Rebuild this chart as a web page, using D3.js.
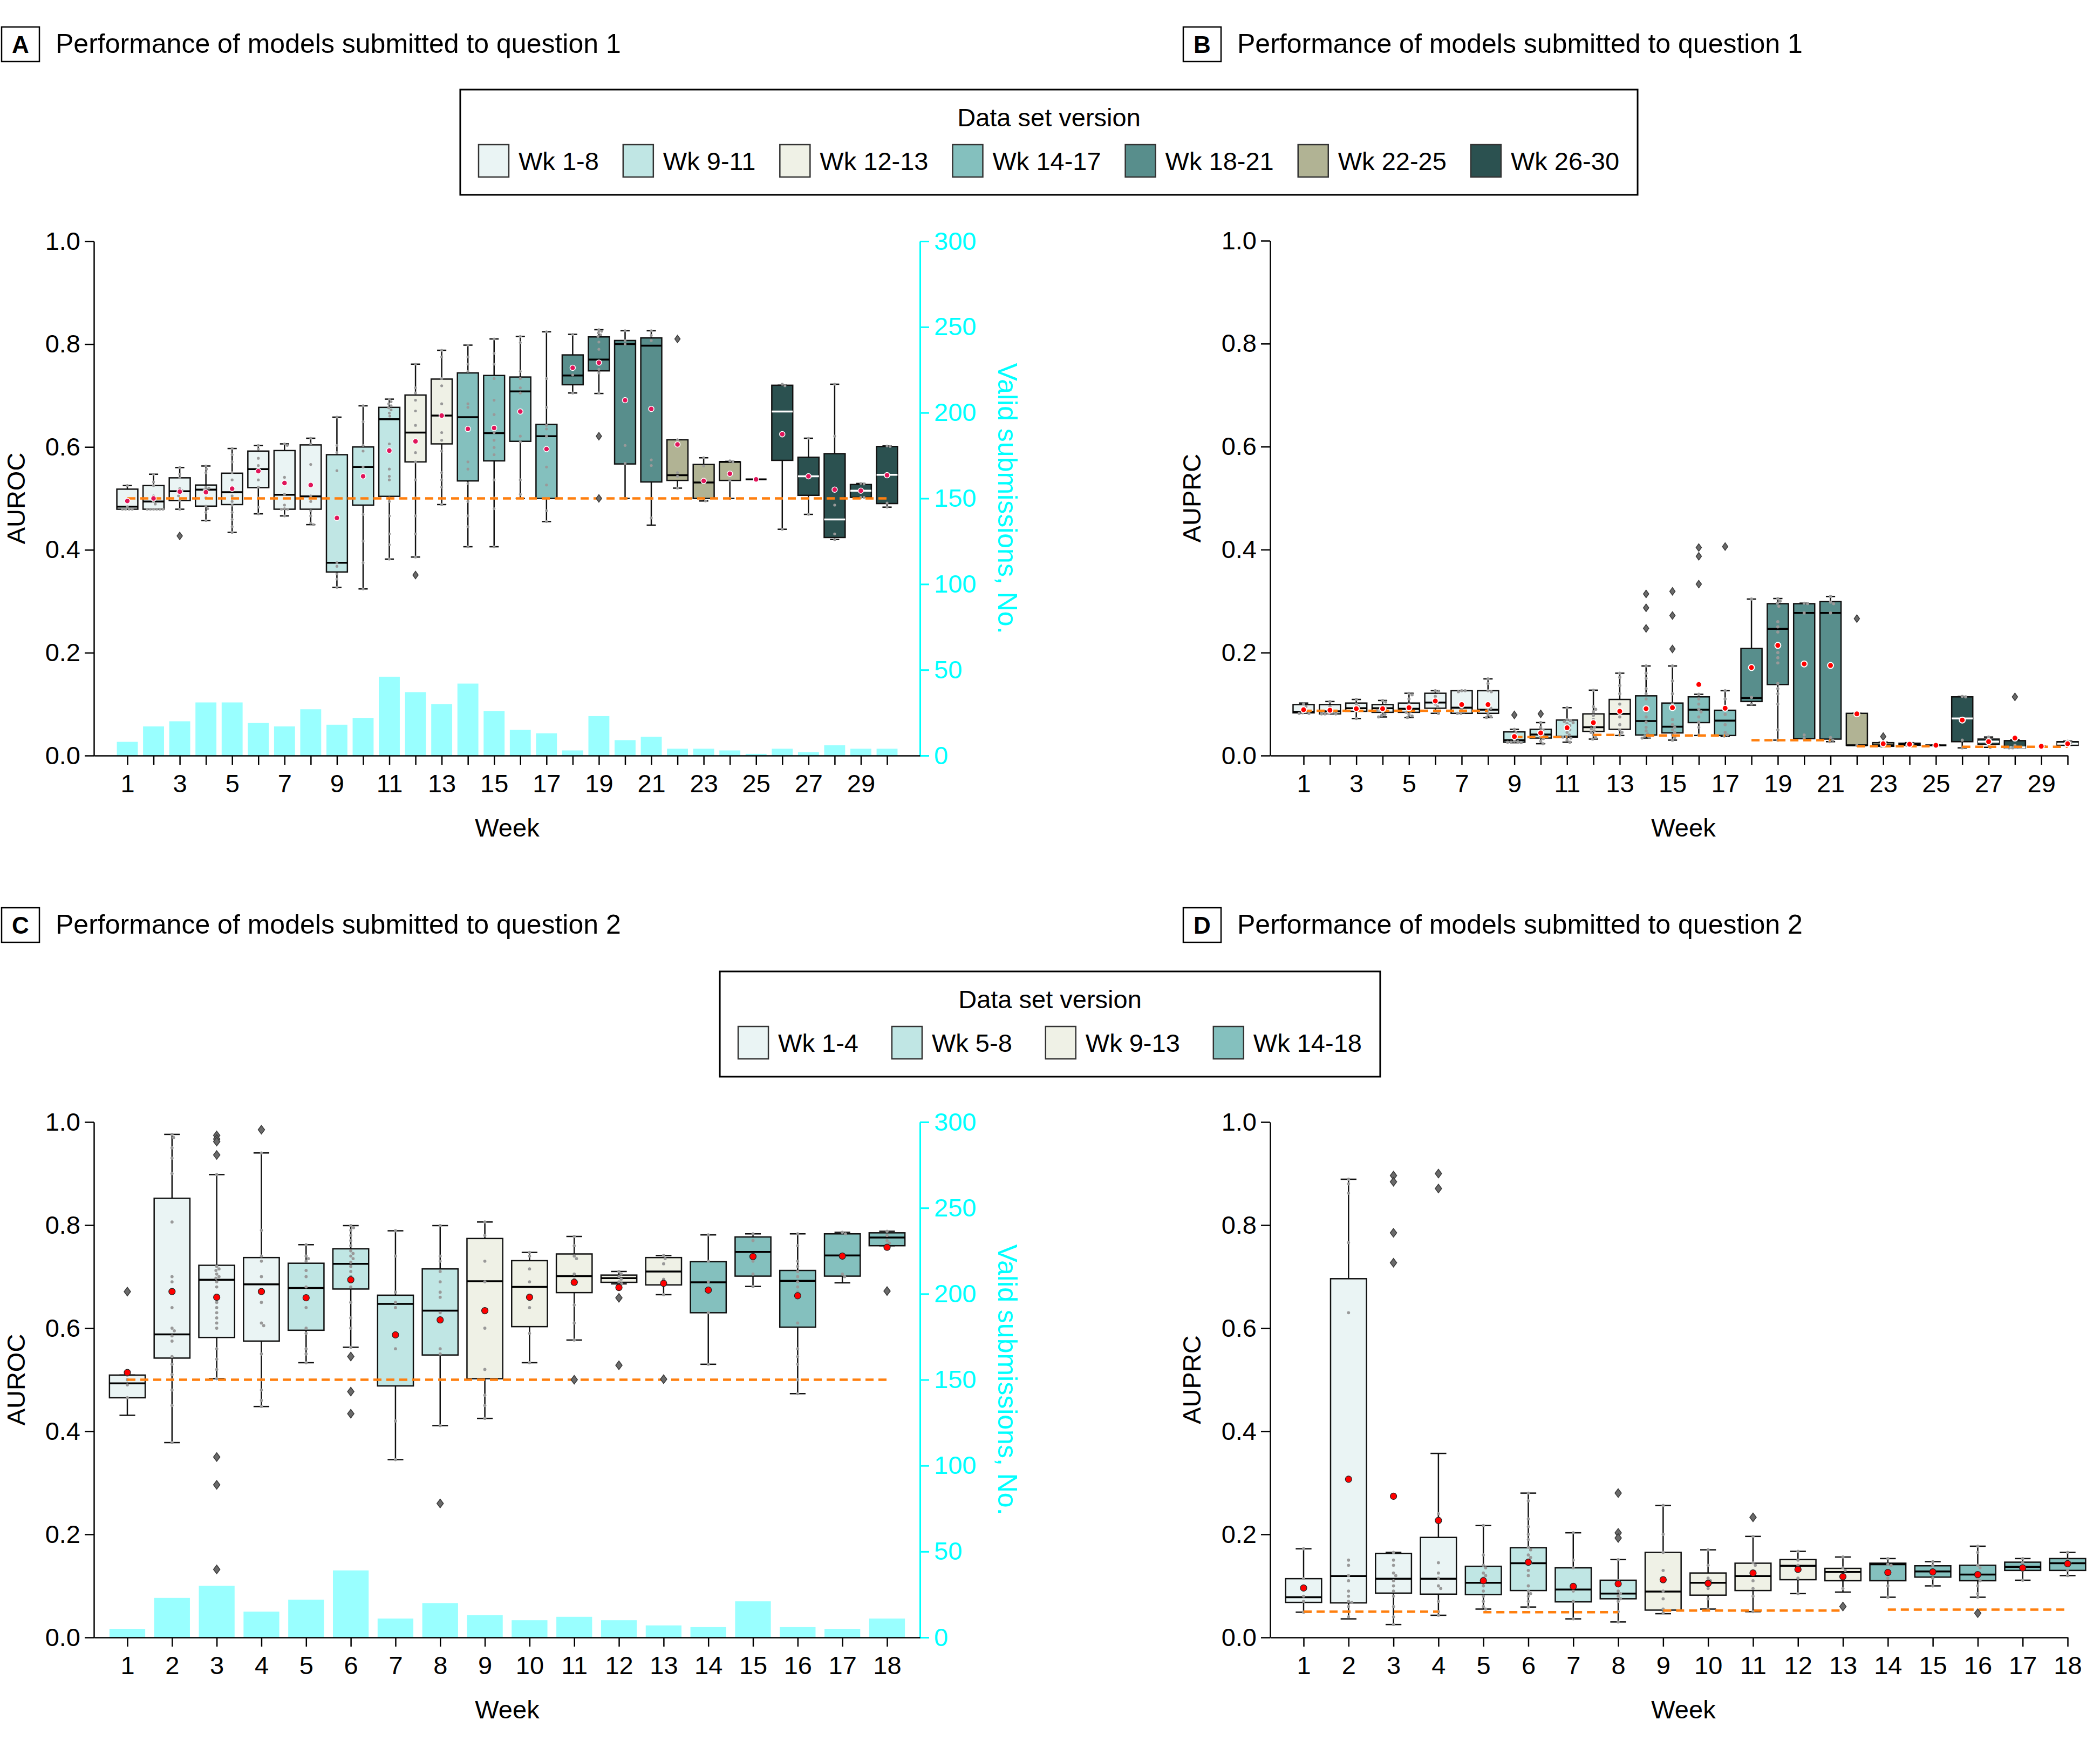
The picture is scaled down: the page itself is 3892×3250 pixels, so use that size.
<!DOCTYPE html>
<html><head><meta charset="utf-8">
<script src="https://cdn.jsdelivr.net/npm/d3@7"></script>
<style>body{margin:0;background:#fff}</style>
</head><body>
<script>
// ---------------- DATA ----------------
const weeksQ1 = [1,2,3,4,5,6,7,8,9,10,11,12,13,14,15,16,17,18,19,20,21,22,23,24,25,26,27,28,29,30];
const weeksQ2 = [1,2,3,4,5,6,7,8,9,10,11,12,13,14,15,16,17,18];
const versionLabelsQ1 = ['Wk 1-8','Wk 9-11','Wk 12-13','Wk 14-17','Wk 18-21','Wk 22-25','Wk 26-30'];
const versionStartQ1 = [1,9,12,14,18,22,26];
const versionEndQ1 = [8,11,13,17,21,25,30];
const versionLabelsQ2 = ['Wk 1-4','Wk 5-8','Wk 9-13','Wk 14-18'];
const versionStartQ2 = [1,5,9,14];
const versionEndQ2 = [4,8,13,18];
const versionColors = ['#eaf4f4','#c0e6e4','#eff1e6','#84c0be','#588e8c','#b1b394','#2b5150'];

// Panel A: AUROC, question 1
const aLo  = [0.479,0.479,0.479,0.457,0.434,0.470,0.466,0.449,0.327,0.324,0.382,0.386,0.488,0.406,0.406,0.500,0.455,0.705,0.704,0.500,0.448,0.520,0.495,0.500,0.537,0.440,0.469,0.420,0.502,0.483];
const aQ1  = [0.479,0.479,0.496,0.485,0.488,0.521,0.479,0.479,0.357,0.487,0.504,0.571,0.606,0.534,0.573,0.611,0.500,0.721,0.748,0.567,0.532,0.535,0.500,0.535,0.537,0.574,0.506,0.424,0.502,0.490];
const aMed = [0.484,0.494,0.514,0.517,0.512,0.557,0.507,0.504,0.375,0.561,0.654,0.628,0.661,0.658,0.627,0.708,0.621,0.739,0.770,0.800,0.797,0.545,0.531,0.571,0.537,0.669,0.543,0.459,0.515,0.546];
const aQ3  = [0.518,0.525,0.540,0.526,0.549,0.592,0.593,0.604,0.585,0.600,0.677,0.701,0.732,0.744,0.739,0.736,0.644,0.779,0.814,0.807,0.812,0.614,0.566,0.571,0.537,0.720,0.580,0.587,0.527,0.601];
const aHi  = [0.525,0.547,0.560,0.563,0.597,0.603,0.606,0.617,0.658,0.680,0.693,0.761,0.788,0.798,0.810,0.815,0.824,0.819,0.828,0.826,0.826,0.614,0.579,0.572,0.537,0.720,0.617,0.722,0.529,0.602];
const aMean= [0.495,0.500,0.513,0.512,0.519,0.553,0.530,0.526,0.462,0.543,0.593,0.611,0.661,0.635,0.637,0.669,0.596,0.754,0.764,0.691,0.674,0.605,0.534,0.548,0.537,0.625,0.543,0.517,0.515,0.545];
const aOut = [[],[],[0.427],[],[],[],[],[],[],[],[],[0.351],[],[],[],[],[],[],[0.621,0.500],[],[],[0.810],[],[],[],[],[],[],[],[]];
const aCounts = [8,17,20,31,31,19,17,27,18,22,46,37,30,42,26,15,13,3,23,9,11,4,4,3,1,4,2,6,4,4];
const aPts = [
 [0.525,0.497,0.484,0.479,0.479,0.479,0.479],
 [0.547,0.532,0.525,0.505,0.494,0.489,0.479,0.479,0.479,0.479,0.479,0.479],
 [0.560,0.547,0.540,0.519,0.514,0.505,0.496,0.479,0.515,0.510],
 [0.563,0.557,0.550,0.522,0.517,0.514,0.501,0.480,0.473,0.457,0.520,0.485],
 [0.597,0.585,0.571,0.550,0.536,0.522,0.505,0.494,0.487,0.473,0.459,0.445,0.434],
 [0.603,0.596,0.578,0.564,0.550,0.536,0.522,0.501,0.483,0.470],
 [0.606,0.603,0.541,0.508,0.487,0.480,0.466,0.479,0.479],
 [0.617,0.606,0.566,0.505,0.494,0.476,0.466,0.452,0.449],
 [0.658,0.603,0.589,0.554,0.375,0.368,0.353,0.343,0.327],
 [0.680,0.649,0.603,0.592,0.561,0.543,0.469,0.417,0.375,0.324],
 [0.693,0.688,0.684,0.680,0.676,0.672,0.666,0.660,0.606,0.592,0.557,0.543,0.536,0.501,0.494,0.466,0.431,0.410,0.382],
 [0.761,0.715,0.705,0.691,0.670,0.642,0.613,0.589,0.571,0.536,0.501,0.466,0.431,0.386],
 [0.788,0.775,0.733,0.719,0.684,0.663,0.628,0.613,0.592,0.550,0.536,0.522,0.488],
 [0.798,0.775,0.761,0.747,0.684,0.677,0.635,0.571,0.557,0.529,0.494,0.466,0.445,0.406],
 [0.810,0.782,0.761,0.733,0.691,0.663,0.628,0.613,0.599,0.585,0.536,0.501,0.480,0.406],
 [0.815,0.803,0.747,0.733,0.715,0.705,0.621,0.610,0.536,0.508],
 [0.824,0.733,0.677,0.642,0.635,0.621,0.561,0.526,0.476,0.455],
 [0.819,0.740,0.705],
 [0.828,0.825,0.822,0.818,0.815,0.804,0.790,0.765,0.751,0.744,0.705],
 [0.826,0.807,0.800,0.603,0.568,0.500],
 [0.826,0.817,0.807,0.575,0.564,0.500,0.462],
 [0.614,0.550,0.543,0.520],
 [0.579,0.563,0.531,0.500,0.495],
 [0.573,0.571,0.535,0.500],
 [0.537],
 [0.722,0.719,0.621,0.440],
 [0.617,0.543,0.469],
 [0.722,0.621,0.487,0.431,0.420],
 [0.529,0.528,0.502,0.502],
 [0.602,0.601,0.491,0.483]
];
const aBaseFrom = [1], aBaseTo = [30], aBaseVal = [0.5];

// Panel B: AUPRC, question 1
const bLo  = [0.082,0.081,0.072,0.075,0.074,0.082,0.082,0.074,0.025,0.023,0.026,0.032,0.039,0.034,0.030,0.039,0.037,0.098,0.030,0.033,0.027,0.020,0.018,0.020,0.020,0.015,0.016,0.015,0.018,0.020];
const bQ1  = [0.083,0.081,0.086,0.084,0.084,0.092,0.082,0.082,0.026,0.034,0.036,0.047,0.051,0.040,0.044,0.064,0.039,0.105,0.138,0.033,0.032,0.020,0.018,0.020,0.020,0.027,0.022,0.015,0.018,0.020];
const bMed = [0.085,0.086,0.092,0.092,0.091,0.103,0.093,0.089,0.030,0.041,0.037,0.055,0.081,0.067,0.056,0.089,0.068,0.112,0.246,0.277,0.277,0.020,0.020,0.022,0.020,0.072,0.027,0.016,0.018,0.023];
const bQ3  = [0.099,0.099,0.102,0.099,0.102,0.121,0.126,0.126,0.046,0.051,0.069,0.081,0.109,0.116,0.102,0.114,0.088,0.208,0.295,0.295,0.299,0.082,0.025,0.024,0.020,0.114,0.032,0.029,0.018,0.027];
const bHi  = [0.102,0.105,0.109,0.107,0.121,0.126,0.126,0.149,0.051,0.064,0.093,0.127,0.160,0.174,0.174,0.119,0.126,0.304,0.305,0.296,0.309,0.082,0.026,0.025,0.020,0.115,0.036,0.031,0.018,0.028];
const bMean= [0.089,0.088,0.091,0.091,0.093,0.106,0.099,0.099,0.037,0.044,0.054,0.064,0.086,0.091,0.093,0.138,0.092,0.171,0.214,0.178,0.175,0.081,0.023,0.022,0.020,0.069,0.027,0.034,0.018,0.023];
const bOut = [[],[],[],[],[],[],[],[],[0.079],[0.081],[],[],[],[0.314,0.287,0.247],[0.319,0.272,0.207],[0.404,0.387,0.333],[0.406],[],[],[],[],[0.266],[0.037],[],[],[],[],[0.114],[],[]];
const bPts = [
 [0.100,0.095,0.090,0.085,0.083,0.082,0.082],
 [0.105,0.095,0.088,0.084,0.082,0.081,0.081,0.081],
 [0.109,0.100,0.095,0.092,0.088,0.072],
 [0.107,0.104,0.095,0.092,0.090,0.088,0.085,0.080,0.078,0.075],
 [0.121,0.118,0.110,0.100,0.094,0.090,0.086,0.084,0.080,0.077,0.074],
 [0.126,0.124,0.115,0.108,0.100,0.095,0.085,0.082],
 [0.126,0.126,0.124,0.090,0.085,0.082,0.082],
 [0.149,0.140,0.126,0.124,0.096,0.092,0.088,0.080,0.076,0.074],
 [0.051,0.045,0.035,0.028,0.027,0.026,0.026,0.025],
 [0.064,0.055,0.050,0.045,0.040,0.036,0.033,0.028,0.023],
 [0.093,0.070,0.068,0.066,0.064,0.062,0.058,0.054,0.050,0.045,0.040,0.037,0.036,0.034,0.030,0.026],
 [0.127,0.095,0.090,0.085,0.078,0.070,0.064,0.060,0.055,0.052,0.048,0.045,0.040,0.035,0.032],
 [0.160,0.152,0.136,0.120,0.100,0.085,0.075,0.060,0.050,0.045,0.040],
 [0.174,0.160,0.150,0.130,0.120,0.110,0.095,0.085,0.075,0.065,0.055,0.048,0.042,0.038,0.036,0.034],
 [0.174,0.145,0.120,0.100,0.090,0.070,0.060,0.055,0.050,0.045,0.040,0.035,0.030],
 [0.119,0.110,0.100,0.090,0.085,0.075,0.065,0.055,0.040],
 [0.126,0.110,0.095,0.080,0.060,0.045,0.040,0.038],
 [0.304,0.113,0.100],
 [0.305,0.300,0.296,0.290,0.260,0.250,0.240,0.200,0.190,0.180,0.140,0.130,0.120,0.100,0.050,0.030],
 [0.296,0.295,0.277,0.040,0.033],
 [0.309,0.298,0.295,0.277,0.035,0.030,0.027],
 [0.082,0.020],
 [0.026,0.020,0.018],
 [0.024,0.022,0.020],
 [0.020],
 [0.115,0.114,0.030,0.015],
 [0.036,0.030,0.022,0.016],
 [0.031,0.020,0.016,0.015,0.015],
 [0.018,0.018],
 [0.028,0.025,0.020]
];
const bBaseFrom = [1,9,12,14,18,22,26], bBaseTo = [8,11,13,17,21,25,30];
const bBaseVal = [0.087,0.036,0.040,0.039,0.030,0.018,0.017];

// Panel C: AUROC, question 2
const cLo  = [0.431,0.378,0.502,0.448,0.533,0.563,0.345,0.411,0.425,0.533,0.577,0.686,0.665,0.530,0.681,0.473,0.688,0.760];
const cQ1  = [0.465,0.542,0.582,0.575,0.596,0.676,0.488,0.548,0.502,0.603,0.669,0.689,0.684,0.630,0.701,0.602,0.701,0.760];
const cMed = [0.493,0.588,0.694,0.685,0.678,0.725,0.647,0.634,0.691,0.680,0.701,0.697,0.710,0.689,0.748,0.692,0.741,0.776];
const cQ3  = [0.509,0.852,0.722,0.737,0.726,0.754,0.664,0.715,0.774,0.731,0.744,0.703,0.737,0.729,0.777,0.712,0.783,0.785];
const cHi  = [0.509,0.976,0.898,0.940,0.762,0.799,0.789,0.799,0.806,0.747,0.778,0.710,0.741,0.781,0.783,0.783,0.786,0.788];
const cMean= [0.514,0.671,0.660,0.671,0.659,0.694,0.587,0.616,0.634,0.660,0.689,0.679,0.687,0.674,0.739,0.663,0.740,0.757];
const cOut = [[0.671],[],[0.974,0.967,0.962,0.936,0.350,0.296,0.132],[0.985],[],[0.545,0.477,0.434],[],[0.260],[],[],[0.500],[0.659,0.528],[0.501],[],[],[],[],[0.672]];
const cCounts = [5,23,30,15,22,39,11,20,13,10,12,10,7,6,21,6,5,11];
const cPts = [
 [0.509,0.500,0.490,0.465],
 [0.976,0.970,0.950,0.930,0.900,0.806,0.700,0.690,0.640,0.600,0.595,0.585,0.575,0.545,0.530,0.510,0.500,0.480,0.450,0.378],
 [0.898,0.720,0.715,0.712,0.705,0.700,0.697,0.690,0.680,0.660,0.650,0.640,0.630,0.620,0.610,0.600,0.560,0.540,0.520,0.502],
 [0.940,0.790,0.740,0.730,0.700,0.650,0.610,0.605,0.550,0.500,0.480,0.460,0.448],
 [0.762,0.740,0.735,0.730,0.712,0.700,0.680,0.660,0.640,0.600,0.590,0.560,0.550,0.533],
 [0.799,0.795,0.790,0.780,0.770,0.760,0.750,0.745,0.740,0.735,0.728,0.720,0.710,0.700,0.690,0.680,0.650,0.620,0.600,0.563],
 [0.789,0.740,0.670,0.650,0.640,0.560,0.420,0.345],
 [0.799,0.740,0.730,0.710,0.690,0.670,0.660,0.630,0.620,0.560,0.550,0.500,0.411],
 [0.806,0.780,0.730,0.690,0.600,0.520,0.470,0.450,0.425],
 [0.747,0.740,0.715,0.690,0.640,0.590,0.533],
 [0.778,0.760,0.740,0.735,0.705,0.695,0.690,0.645,0.610,0.577],
 [0.710,0.705,0.700,0.695,0.690,0.686],
 [0.741,0.735,0.725,0.695,0.665],
 [0.781,0.730,0.690,0.630,0.530],
 [0.783,0.770,0.730,0.705,0.681],
 [0.783,0.760,0.730,0.720,0.710,0.700,0.690,0.680,0.670,0.610,0.560,0.545,0.530,0.500,0.473],
 [0.786,0.783,0.705,0.700],
 [0.788,0.780,0.770,0.765]
];
const cBaseFrom = [1], cBaseTo = [18], cBaseVal = [0.5];

// Panel D: AUPRC, question 2
const dLo  = [0.049,0.036,0.025,0.043,0.055,0.059,0.036,0.030,0.046,0.055,0.050,0.085,0.088,0.078,0.100,0.078,0.111,0.120];
const dQ1  = [0.068,0.067,0.086,0.084,0.083,0.091,0.069,0.075,0.053,0.082,0.091,0.112,0.110,0.110,0.117,0.110,0.130,0.130];
const dMed = [0.078,0.119,0.114,0.114,0.106,0.144,0.093,0.085,0.089,0.106,0.119,0.139,0.127,0.142,0.128,0.122,0.137,0.144];
const dQ3  = [0.114,0.696,0.163,0.194,0.138,0.174,0.135,0.111,0.165,0.125,0.144,0.151,0.134,0.144,0.139,0.140,0.146,0.153];
const dHi  = [0.172,0.889,0.165,0.357,0.217,0.280,0.203,0.151,0.256,0.170,0.196,0.167,0.156,0.153,0.147,0.177,0.153,0.165];
const dMean= [0.096,0.307,0.274,0.227,0.110,0.146,0.099,0.104,0.112,0.105,0.125,0.132,0.118,0.126,0.127,0.122,0.135,0.143];
const dOut = [[],[],[0.896,0.884,0.785,0.727],[0.900,0.871],[],[],[],[0.280,0.203,0.193],[],[],[0.233],[],[0.060],[],[],[0.047],[],[]];
const dPts = [
 [0.172,0.114,0.080,0.070,0.049],
 [0.889,0.880,0.862,0.766,0.630,0.150,0.140,0.120,0.110,0.090,0.080,0.070,0.068,0.060,0.050,0.040],
 [0.165,0.150,0.140,0.125,0.120,0.110,0.100,0.090,0.080,0.060,0.040,0.025],
 [0.240,0.145,0.125,0.115,0.100,0.095,0.070,0.050,0.043],
 [0.217,0.160,0.140,0.135,0.125,0.120,0.115,0.100,0.090,0.080,0.070,0.060,0.055],
 [0.280,0.265,0.230,0.215,0.200,0.190,0.175,0.170,0.160,0.155,0.150,0.145,0.130,0.120,0.100,0.090,0.085,0.080,0.070,0.059],
 [0.203,0.150,0.135,0.090,0.070,0.036],
 [0.151,0.110,0.100,0.090,0.085,0.080,0.075,0.070,0.050,0.030],
 [0.256,0.200,0.165,0.130,0.090,0.075,0.055,0.048],
 [0.170,0.140,0.115,0.110,0.095,0.075,0.055],
 [0.196,0.145,0.140,0.125,0.110,0.095,0.080,0.050],
 [0.167,0.150,0.140,0.115,0.085],
 [0.156,0.135,0.130,0.095],
 [0.153,0.142,0.140,0.115,0.100,0.078],
 [0.147,0.140,0.125,0.115,0.100],
 [0.177,0.165,0.140,0.135,0.125,0.115,0.110,0.100,0.085,0.078],
 [0.153,0.145,0.137,0.130,0.111],
 [0.165,0.150,0.145,0.130,0.120]
];
const dBaseFrom = [1,5,9,14], dBaseTo = [4,8,13,18], dBaseVal = [0.050,0.049,0.052,0.054];

const yTicks = [0,0.2,0.4,0.6,0.8,1.0];
const countTicks = [0,50,100,150,200,250,300];

// ---------------- DRAWING ----------------
const W = 3892, H = 3250;
const FONT = '"Liberation Sans", Arial, sans-serif';
const svg = d3.select('body').append('svg').attr('width', W).attr('height', H)
  .style('font-family', FONT);
svg.append('rect').attr('width', W).attr('height', H).attr('fill', '#fff');

const TICKFONT = '47px ' + FONT;

function groupOf(w, starts){ let g = 0; starts.forEach((s,i)=>{ if (w >= s) g = i; }); return g; }

function swarm(vals, y, d){
  const items = vals.map(v => ({v, py: y(v)})).sort((a,b)=>a.py-b.py);
  const placed = [];
  for (const p of items){
    const cands = [0];
    for (const q of placed){
      const dy = p.py - q.py;
      if (Math.abs(dy) < d){ const dx = Math.sqrt(d*d - dy*dy); cands.push(q.dx + dx, q.dx - dx); }
    }
    cands.sort((a,b)=>Math.abs(a)-Math.abs(b));
    let best = 0;
    for (const c of cands){
      if (placed.every(q => (q.dx-c)**2 + (q.py-p.py)**2 >= d*d - 0.5)){ best = c; break; }
    }
    p.dx = best; placed.push(p);
  }
  return placed;
}

function drawPanel(o){
  const g = svg.append('g');
  const n = o.weeks.length;
  const firstX = o.left + 62;
  const lastX = o.lastAtRight ? o.right : o.right - 61;
  const step = (lastX - firstX) / (n - 1);
  const x = d3.scaleLinear()
    .domain([1 - (firstX - o.left)/step, n + (o.right - lastX)/step])
    .range([o.left, o.right]);
  const y = d3.scaleLinear().domain([0, 1]).range([o.bottom, o.top]);
  const bw = 0.8 * step;

  // submission count bars (twin axis)
  if (o.counts){
    const yc = d3.scaleLinear().domain([0, 300]).range([o.bottom, o.top]);
    g.append('g').selectAll('rect').data(o.weeks).join('rect')
      .attr('x', w => x(w) - bw/2).attr('width', bw)
      .attr('y', (w,i) => yc(o.counts[i]))
      .attr('height', (w,i) => o.bottom - yc(o.counts[i]))
      .attr('fill', '#99ffff');
    const rg = g.append('g').attr('transform', `translate(${o.right},0)`)
      .call(d3.axisRight(yc).tickValues(countTicks).tickSize(17).tickSizeOuter(0).tickPadding(9));
    rg.select('.domain').attr('stroke', '#00ffff').attr('stroke-width', 3);
    rg.selectAll('.tick line').attr('stroke', '#00ffff').attr('stroke-width', 3);
    rg.selectAll('.tick text').attr('fill', '#00ffff').style('font', TICKFONT);
    g.append('text').text('Valid submissions, No.')
      .attr('transform', `translate(${o.rightLabelX},${(o.top+o.bottom)/2}) rotate(90)`)
      .attr('text-anchor', 'middle').attr('fill', '#00ffff').style('font-size', '50px');
  }

  // boxes
  const bg = g.append('g');
  o.weeks.forEach((w, i) => {
    const gi = groupOf(w, o.starts);
    const cx = x(w);
    const col = versionColors[gi];
    const lw = 2.5;
    bg.append('line').attr('x1', cx).attr('x2', cx).attr('y1', y(o.q3[i])).attr('y2', y(o.hi[i]))
      .attr('stroke', '#111').attr('stroke-width', lw);
    bg.append('line').attr('x1', cx).attr('x2', cx).attr('y1', y(o.q1[i])).attr('y2', y(o.lo[i]))
      .attr('stroke', '#111').attr('stroke-width', lw);
    const cw = bw * 0.22;
    [o.hi[i], o.lo[i]].forEach(v => {
      bg.append('line').attr('x1', cx - cw).attr('x2', cx + cw).attr('y1', y(v)).attr('y2', y(v))
        .attr('stroke', '#111').attr('stroke-width', lw);
    });
    bg.append('rect').attr('x', cx - bw/2).attr('width', bw)
      .attr('y', y(o.q3[i])).attr('height', Math.max(0, y(o.q1[i]) - y(o.q3[i])))
      .attr('fill', col).attr('stroke', '#111').attr('stroke-width', lw);
    bg.append('line').attr('x1', cx - bw/2).attr('x2', cx + bw/2)
      .attr('y1', y(o.med[i])).attr('y2', y(o.med[i]))
      .attr('stroke', gi === 6 ? '#ffffff' : '#000').attr('stroke-width', 3.5);
  });

  // swarm points
  const pg = g.append('g');
  o.weeks.forEach((w, i) => {
    const pts = swarm(o.pts[i], y, o.ptR*2 + 0.6);
    pts.forEach(p => {
      pg.append('circle').attr('cx', x(w) + p.dx).attr('cy', p.py).attr('r', o.ptR)
        .attr('fill', '#999999');
    });
  });

  // baseline (dashed)
  o.baseVal.forEach((v, k) => {
    g.append('line').attr('x1', x(o.baseFrom[k])).attr('x2', x(o.baseTo[k]))
      .attr('y1', y(v)).attr('y2', y(v))
      .attr('stroke', '#ff7f0e').attr('stroke-width', 4.5).attr('stroke-dasharray', '15,9');
  });

  // outliers (diamonds)
  const og = g.append('g');
  o.weeks.forEach((w, i) => {
    o.out[i].forEach(v => {
      const cx = x(w), cy = y(v), hw = o.dw, hh = o.dh;
      og.append('path').attr('d', `M${cx},${cy-hh}L${cx+hw},${cy}L${cx},${cy+hh}L${cx-hw},${cy}Z`)
        .attr('fill', '#6a6a6a').attr('stroke', '#3a3a3a').attr('stroke-width', 1.5);
    });
  });

  // means
  g.append('g').selectAll('circle').data(o.weeks).join('circle')
    .attr('cx', w => x(w)).attr('cy', (w,i) => y(o.mean[i])).attr('r', o.meanR)
    .attr('fill', o.meanFill).attr('stroke', o.meanStroke).attr('stroke-width', o.meanSW);

  // axes
  const xa = g.append('g').attr('transform', `translate(0,${o.bottom})`)
    .call(d3.axisBottom(x).tickValues(o.weeks)
      .tickFormat(w => (o.oddOnly && w % 2 === 0) ? '' : String(w))
      .tickSize(17).tickSizeOuter(0).tickPadding(18));
  xa.select('.domain').attr('stroke', '#000').attr('stroke-width', 2.5);
  xa.selectAll('.tick line').attr('stroke', '#000').attr('stroke-width', 2.5);
  xa.selectAll('.tick text').attr('fill', '#000').style('font', TICKFONT);

  const ya = g.append('g').attr('transform', `translate(${o.left},0)`)
    .call(d3.axisLeft(y).tickValues(yTicks).tickFormat(d3.format('.1f'))
      .tickSize(17).tickSizeOuter(0).tickPadding(8));
  ya.select('.domain').attr('stroke', '#000').attr('stroke-width', 2.5);
  ya.selectAll('.tick line').attr('stroke', '#000').attr('stroke-width', 2.5);
  ya.selectAll('.tick text').attr('fill', '#000').style('font', TICKFONT);

  // axis labels
  g.append('text').text('Week').attr('x', o.weekX).attr('y', o.bottom + 150)
    .attr('text-anchor', 'middle').style('font-size', '47px');
  g.append('text').text(o.yLabel)
    .attr('transform', `translate(${o.yLabelX},${(o.top+o.bottom)/2}) rotate(-90)`)
    .attr('text-anchor', 'middle').style('font-size', '47px');
}

function drawTitle(bx, by, letter, title){
  svg.append('rect').attr('x', bx).attr('y', by).attr('width', 70).attr('height', 64)
    .attr('fill', '#fff').attr('stroke', '#000').attr('stroke-width', 2.5);
  svg.append('text').text(letter).attr('x', bx + 35).attr('y', by + 48)
    .attr('text-anchor', 'middle').style('font-size', '44px').style('font-weight', 'bold');
  svg.append('text').text(title).attr('x', bx + 100).attr('y', by + 48)
    .style('font-size', '50px');
}

function drawLegend(cx, top, labels, gap){
  const g = svg.append('g');
  const items = g.append('g');
  let xpos = 0;
  labels.forEach((lab, i) => {
    items.append('rect').attr('x', xpos).attr('y', 102).attr('width', 56).attr('height', 60)
      .attr('fill', versionColors[i]).attr('stroke', '#333').attr('stroke-width', 2.5);
    const t = items.append('text').text(lab).attr('x', xpos + 74).attr('y', 149)
      .style('font-size', '47px');
    const tw = t.node().getComputedTextLength();
    xpos += 74 + tw + (i < labels.length - 1 ? gap : 0);
  });
  const boxW = xpos + 68;
  const bx = cx - boxW/2;
  g.insert('rect', ':first-child').attr('x', bx).attr('y', top).attr('width', boxW).attr('height', 195)
    .attr('fill', '#fff').attr('stroke', '#000').attr('stroke-width', 3);
  items.attr('transform', `translate(${bx + 34},${top})`);
  g.append('text').text('Data set version').attr('x', cx).attr('y', top + 68)
    .attr('text-anchor', 'middle').style('font-size', '47px');
}

drawTitle(3, 50, 'A', 'Performance of models submitted to question 1');
drawTitle(2193, 50, 'B', 'Performance of models submitted to question 1');
drawTitle(3, 1682, 'C', 'Performance of models submitted to question 2');
drawTitle(2193, 1682, 'D', 'Performance of models submitted to question 2');

drawLegend(1944, 166, versionLabelsQ1, 45);
drawLegend(1946, 1800, versionLabelsQ2, 62);

drawPanel({left:174, right:1705, top:447, bottom:1400, lastAtRight:false, weeks:weeksQ1,
  lo:aLo, q1:aQ1, med:aMed, q3:aQ3, hi:aHi, mean:aMean, out:aOut, pts:aPts, counts:aCounts,
  starts:versionStartQ1, baseFrom:aBaseFrom, baseTo:aBaseTo, baseVal:aBaseVal, oddOnly:true,
  yLabel:'AUROC', yLabelX:46, weekX:940, rightLabelX:1850,
  meanFill:'#e0155a', meanStroke:'#fff', meanSW:1.5, meanR:5, ptR:2.6, dw:5, dh:7});
drawPanel({left:2354, right:3832, top:446, bottom:1400, lastAtRight:true, weeks:weeksQ1,
  lo:bLo, q1:bQ1, med:bMed, q3:bQ3, hi:bHi, mean:bMean, out:bOut, pts:bPts,
  starts:versionStartQ1, baseFrom:bBaseFrom, baseTo:bBaseTo, baseVal:bBaseVal, oddOnly:true,
  yLabel:'AUPRC', yLabelX:2225, weekX:3120,
  meanFill:'#ff0000', meanStroke:'#fff', meanSW:2, meanR:5.5, ptR:2.9, dw:5, dh:7});
drawPanel({left:174, right:1705, top:2079, bottom:3034, lastAtRight:false, weeks:weeksQ2,
  lo:cLo, q1:cQ1, med:cMed, q3:cQ3, hi:cHi, mean:cMean, out:cOut, pts:cPts, counts:cCounts,
  starts:versionStartQ2, baseFrom:cBaseFrom, baseTo:cBaseTo, baseVal:cBaseVal, oddOnly:false,
  yLabel:'AUROC', yLabelX:46, weekX:940, rightLabelX:1850,
  meanFill:'#ff0000', meanStroke:'#222', meanSW:1.2, meanR:6, ptR:2.9, dw:6, dh:8});
drawPanel({left:2354, right:3832, top:2079, bottom:3034, lastAtRight:true, weeks:weeksQ2,
  lo:dLo, q1:dQ1, med:dMed, q3:dQ3, hi:dHi, mean:dMean, out:dOut, pts:dPts,
  starts:versionStartQ2, baseFrom:dBaseFrom, baseTo:dBaseTo, baseVal:dBaseVal, oddOnly:false,
  yLabel:'AUPRC', yLabelX:2225, weekX:3120,
  meanFill:'#ff0000', meanStroke:'#222', meanSW:1.2, meanR:6, ptR:2.9, dw:6, dh:8});
</script>
</body></html>
